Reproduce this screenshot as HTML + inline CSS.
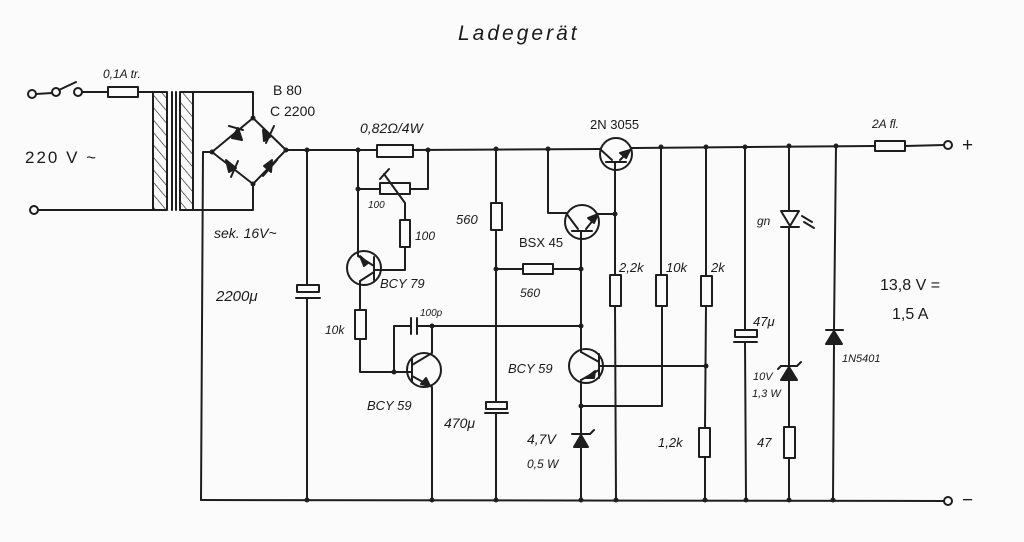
<!DOCTYPE html>
<html><head><meta charset="utf-8"><style>
html,body{margin:0;padding:0;background:#fbfbfb;}
svg{display:block}
text{font-family:"Liberation Sans",sans-serif;font-style:italic;fill:#1a1a1a;font-size:13px;}
</style></head><body>
<svg width="1024" height="542" viewBox="0 0 1024 542" xmlns="http://www.w3.org/2000/svg">
<defs>
<pattern id="h" width="8" height="8" patternUnits="userSpaceOnUse" patternTransform="rotate(-40)">
<line x1="0" y1="0" x2="0" y2="8" stroke="#222" stroke-width="1.3"/></pattern>
</defs>
<g stroke="#1e1e1e" stroke-width="2" fill="none" stroke-linecap="round" stroke-linejoin="round">
<!-- input -->
<circle cx="32" cy="94" r="4" fill="#fbfbfb"/><circle cx="56" cy="92" r="4" fill="#fbfbfb"/><circle cx="78" cy="92" r="4" fill="#fbfbfb"/>
<line x1="36" y1="94" x2="52" y2="93"/><line x1="59" y1="90" x2="76" y2="82"/>
<line x1="82" y1="92" x2="108" y2="92"/><rect x="108" y="87" width="30" height="10"/><line x1="138" y1="92" x2="153" y2="92"/>
<circle cx="34" cy="210" r="4" fill="#fbfbfb"/><line x1="38" y1="210" x2="153" y2="210"/>
<!-- transformer -->
<rect x="153" y="92" width="14" height="118" fill="url(#h)"/>
<line x1="172" y1="92" x2="172" y2="210"/><line x1="176" y1="92" x2="176" y2="210"/>
<rect x="180" y="92" width="13" height="118" fill="url(#h)"/>
<polyline points="193,92 253,92 253,118"/>
<polyline points="193,210 253,210 253,184"/>
<!-- bridge -->
<polyline points="253,118 286,150 253,184 212,152 253,118"/>
<polygon points="232,138 238,128 242,140" fill="#1e1e1e"/><line x1="229" y1="126" x2="243" y2="130"/>
<polygon points="263,130 271,136 264,141" fill="#1e1e1e"/><line x1="274" y1="126" x2="266" y2="143"/>
<polygon points="226,160 236,168 229,172" fill="#1e1e1e"/><line x1="238" y1="161" x2="231" y2="177"/>
<polygon points="264,166 272,160 271,172" fill="#1e1e1e"/><line x1="263" y1="176" x2="277" y2="160"/>
<polyline points="212,152 203,152 201,500"/>
<!-- top rail -->
<line x1="286" y1="150" x2="377" y2="150"/><rect x="377" y="145" width="36" height="12"/>
<line x1="413" y1="150" x2="600" y2="149"/>
<line x1="632" y1="148" x2="875" y2="146"/><rect x="875" y="141" width="30" height="10"/><line x1="905" y1="146" x2="944" y2="145"/>
<circle cx="948" cy="145" r="4" fill="#fbfbfb"/>
<!-- bottom rail -->
<line x1="201" y1="500" x2="944" y2="501"/><circle cx="948" cy="501" r="4" fill="#fbfbfb"/>
<!-- 2200u -->
<line x1="307" y1="150" x2="307" y2="285"/><rect x="297" y="285" width="22" height="7"/><line x1="296" y1="298" x2="320" y2="298"/><line x1="307" y1="298" x2="307" y2="500"/>
<!-- pot / shunt -->
<polyline points="428,150 428,189 410,189"/><rect x="380" y="183" width="30" height="11"/><line x1="380" y1="189" x2="358" y2="189"/>
<polyline points="384,174 405,203 405,220"/><line x1="380" y1="179" x2="389" y2="169"/>
<rect x="400" y="220" width="10" height="27"/><polyline points="405,247 405,270 374,270"/>
<!-- BCY79 -->
<line x1="358" y1="150" x2="358" y2="256"/>
<circle cx="364" cy="268" r="17"/><line x1="374" y1="257" x2="374" y2="280"/>
<line x1="358" y1="256" x2="374" y2="266"/><polygon points="368,263 360,256 364,266" fill="#1e1e1e"/>
<line x1="374" y1="272" x2="360" y2="281"/><line x1="360" y1="281" x2="360" y2="310"/>
<rect x="355" y="310" width="11" height="29"/><polyline points="360,339 360,372 394,372"/>
<!-- 100p & BCY59 left -->
<polyline points="394,372 394,326 411,326"/><line x1="411" y1="318" x2="411" y2="334"/><line x1="417" y1="318" x2="417" y2="334"/>
<line x1="417" y1="326" x2="581" y2="326"/>
<line x1="394" y1="372" x2="412" y2="372"/>
<circle cx="424" cy="370" r="17"/><line x1="412" y1="359" x2="412" y2="382"/>
<polyline points="412,365 432,353 432,326"/>
<polyline points="412,376 432,387 432,500"/><polygon points="430,386 421,384 426,378" fill="#1e1e1e"/>
<!-- 560 vertical, 470u -->
<line x1="496" y1="150" x2="496" y2="203"/><rect x="491" y="203" width="11" height="27"/><line x1="496" y1="230" x2="496" y2="402"/>
<rect x="486" y="402" width="21" height="7"/><line x1="485" y1="413" x2="508" y2="413"/><line x1="496" y1="413" x2="496" y2="500"/>
<line x1="496" y1="269" x2="523" y2="269"/><rect x="523" y="264" width="30" height="10"/><line x1="553" y1="269" x2="581" y2="269"/>
<!-- 2N3055 -->
<circle cx="616" cy="154" r="16"/><line x1="606" y1="162" x2="626" y2="162"/>
<line x1="600" y1="149" x2="612" y2="160"/><line x1="620" y1="160" x2="632" y2="148"/><polygon points="630,150 620,153 626,158" fill="#1e1e1e"/>
<line x1="615" y1="162" x2="615" y2="275"/>
<!-- BSX45 -->
<polyline points="548,149 548,213 566,213"/>
<circle cx="582" cy="222" r="17"/><line x1="572" y1="231" x2="592" y2="231"/>
<line x1="566" y1="213" x2="578" y2="229"/><line x1="586" y1="229" x2="598" y2="214"/><polygon points="598,214 588,218 594,223" fill="#1e1e1e"/>
<line x1="598" y1="214" x2="615" y2="214"/>
<line x1="581" y1="231" x2="581" y2="352"/>
<!-- BCY59 right -->
<circle cx="586" cy="366" r="17"/><line x1="599" y1="354" x2="599" y2="378"/>
<line x1="581" y1="352" x2="599" y2="362"/><line x1="599" y1="370" x2="581" y2="380"/><polygon points="586,378 595,371 594,378" fill="#1e1e1e"/>
<line x1="599" y1="366" x2="706" y2="366"/>
<line x1="581" y1="380" x2="581" y2="434"/>
<polyline points="581,406 662,406 662,306"/>
<line x1="572" y1="434" x2="590" y2="434"/><line x1="590" y1="434" x2="594" y2="430"/><polygon points="581,435 574,447 588,447" fill="#1e1e1e"/><line x1="581" y1="447" x2="581" y2="500"/>
<!-- resistors right -->
<rect x="610" y="275" width="11" height="31"/><line x1="615" y1="306" x2="616" y2="500"/>
<line x1="661" y1="147" x2="661" y2="275"/><rect x="656" y="275" width="11" height="31"/>
<line x1="706" y1="147" x2="706" y2="276"/><rect x="701" y="276" width="11" height="30"/><line x1="706" y1="306" x2="705" y2="428"/>
<rect x="699" y="428" width="11" height="29"/><line x1="705" y1="457" x2="705" y2="500"/>
<!-- 47u -->
<line x1="745" y1="147" x2="745" y2="330"/><rect x="735" y="330" width="22" height="7"/><line x1="734" y1="342" x2="757" y2="342"/><line x1="745" y1="342" x2="746" y2="500"/>
<!-- LED -->
<line x1="789" y1="146" x2="789" y2="211"/><polygon points="781,211 799,211 790,226"/><line x1="781" y1="227" x2="799" y2="227"/>
<line x1="802" y1="216" x2="812" y2="222"/><line x1="804" y1="222" x2="814" y2="228"/><line x1="789" y1="227" x2="789" y2="366"/>
<line x1="781" y1="366" x2="797" y2="366"/><line x1="797" y1="366" x2="801" y2="362"/><line x1="781" y1="366" x2="778" y2="369"/>
<polygon points="789,367 781,380 797,380" fill="#1e1e1e"/><line x1="789" y1="380" x2="789" y2="427"/>
<rect x="784" y="427" width="11" height="31"/><line x1="789" y1="458" x2="789" y2="500"/>
<!-- 1N5401 -->
<line x1="836" y1="146" x2="834" y2="330"/><line x1="826" y1="330" x2="843" y2="330"/><polygon points="834,331 826,344 842,344" fill="#1e1e1e"/><line x1="834" y1="344" x2="833" y2="500"/>
</g>
<g fill="#1e1e1e">
<circle cx="253" cy="118" r="2.5"/><circle cx="212" cy="152" r="2.5"/><circle cx="286" cy="150" r="2.5"/><circle cx="253" cy="184" r="2.5"/>
<circle cx="307" cy="150" r="2.5"/><circle cx="358" cy="150" r="2.5"/><circle cx="428" cy="150" r="2.5"/><circle cx="358" cy="189" r="2.5"/>
<circle cx="496" cy="149" r="2.5"/><circle cx="548" cy="149" r="2.5"/><circle cx="661" cy="147" r="2.5"/><circle cx="706" cy="147" r="2.5"/>
<circle cx="745" cy="147" r="2.5"/><circle cx="789" cy="146" r="2.5"/><circle cx="836" cy="146" r="2.5"/>
<circle cx="615" cy="214" r="2.5"/><circle cx="496" cy="269" r="2.5"/><circle cx="581" cy="269" r="2.5"/><circle cx="581" cy="326" r="2.5"/>
<circle cx="432" cy="326" r="2.5"/><circle cx="394" cy="372" r="2.5"/><circle cx="581" cy="406" r="2.5"/><circle cx="706" cy="366" r="2.5"/>
<circle cx="307" cy="500" r="2.5"/><circle cx="432" cy="500" r="2.5"/><circle cx="496" cy="500" r="2.5"/><circle cx="581" cy="500" r="2.5"/>
<circle cx="616" cy="500" r="2.5"/><circle cx="705" cy="500" r="2.5"/><circle cx="746" cy="500" r="2.5"/><circle cx="789" cy="500" r="2.5"/><circle cx="833" cy="500" r="2.5"/>
</g>
<text x="458" y="40" style="font-size:21px;letter-spacing:3px">Ladegerät</text>
<text x="103" y="78" style="font-size:12px">0,1A tr.</text>
<text x="273" y="95" style="font-size:14px;font-style:normal">B 80</text>
<text x="270" y="116" style="font-size:14px;font-style:normal">C 2200</text>
<text x="25" y="163" style="font-size:17px;font-style:normal;letter-spacing:2px">220 V ~</text>
<text x="360" y="133" style="font-size:14px">0,82Ω/4W</text>
<text x="368" y="208" style="font-size:10px">100</text>
<text x="415" y="240" style="font-size:12px">100</text>
<text x="214" y="238" style="font-size:14px">sek. 16V~</text>
<text x="456" y="224" style="font-size:13px">560</text>
<text x="380" y="288" style="font-size:13px">BCY 79</text>
<text x="216" y="301" style="font-size:15px">2200μ</text>
<text x="325" y="334" style="font-size:12px">10k</text>
<text x="420" y="316" style="font-size:10px">100p</text>
<text x="367" y="410" style="font-size:13px">BCY 59</text>
<text x="444" y="428" style="font-size:14px">470μ</text>
<text x="508" y="373" style="font-size:13px">BCY 59</text>
<text x="527" y="444" style="font-size:14px">4,7V</text>
<text x="527" y="468" style="font-size:12px">0,5 W</text>
<text x="590" y="129" style="font-size:13px;font-style:normal">2N 3055</text>
<text x="519" y="247" style="font-size:13px;font-style:normal">BSX 45</text>
<text x="520" y="297" style="font-size:12px">560</text>
<text x="619" y="272" style="font-size:13px">2,2k</text>
<text x="666" y="272" style="font-size:13px">10k</text>
<text x="711" y="272" style="font-size:13px">2k</text>
<text x="753" y="326" style="font-size:13px">47μ</text>
<text x="658" y="447" style="font-size:13px">1,2k</text>
<text x="753" y="380" style="font-size:11px">10V</text>
<text x="752" y="397" style="font-size:11px">1,3 W</text>
<text x="757" y="447" style="font-size:13px">47</text>
<text x="757" y="225" style="font-size:12px">gn</text>
<text x="842" y="362" style="font-size:11px">1N5401</text>
<text x="880" y="290" style="font-size:16px;font-style:normal">13,8 V =</text>
<text x="892" y="319" style="font-size:16px;font-style:normal">1,5 A</text>
<text x="872" y="128" style="font-size:12px">2A fl.</text>
<text x="962" y="151" style="font-size:19px;font-style:normal">+</text>
<text x="962" y="506" style="font-size:19px;font-style:normal">−</text>
</svg>
</body></html>
